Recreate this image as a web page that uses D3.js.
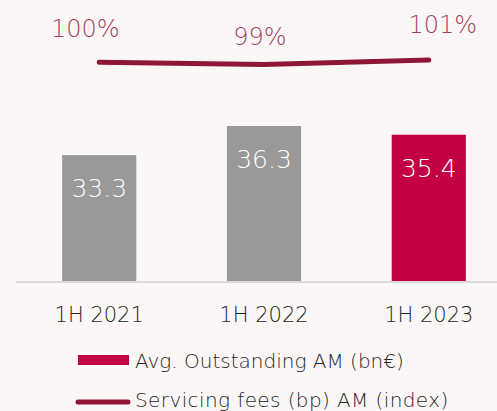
<!DOCTYPE html>
<html>
<head>
<meta charset="utf-8">
<script src="https://cdn.jsdelivr.net/npm/d3@7"></script>
<style>
  body { margin: 0; background: #fcf7f7; }
  svg { display: block; font-family: "DejaVu Sans", sans-serif; }
</style>
</head>
<body>
<div id="chart"></div>
<script>
// data
var periods = ["1H 2021", "1H 2022", "1H 2023"];
var outstanding = [33.3, 36.3, 35.4];
var feesIndex = [100, 99, 101];
var feesLabels = ["100%", "99%", "101%"];

var width = 497, height = 411;
var baseline = 281;

var svg = d3.select("#chart")
    .append("svg")
    .attr("width", width)
    .attr("height", height);

svg.append("rect")
    .attr("width", width)
    .attr("height", height)
    .attr("fill", "#fcf7f7");

// x scale - band for bars
var x = d3.scaleBand()
    .domain(periods)
    .range([16, 512])
    .paddingInner(0.55)
    .paddingOuter(0.28);

// y scale for bars (axis does not start at zero)
var y = d3.scaleLinear()
    .domain([20.3, 36.3])
    .range([baseline, 126]);

// y scale for the index line
var yLine = d3.scaleLinear()
    .domain([99, 101])
    .range([64.5, 60]);

// baseline
svg.append("line")
    .attr("x1", 16)
    .attr("x2", width)
    .attr("y1", baseline + 1)
    .attr("y2", baseline + 1)
    .attr("stroke", "#d9d9d9")
    .attr("stroke-width", 2);

// bars
svg.append("g")
    .selectAll("rect")
    .data(outstanding)
    .enter()
    .append("rect")
    .attr("x", function(d, i) { return x(periods[i]); })
    .attr("y", function(d) { return y(d); })
    .attr("width", x.bandwidth())
    .attr("height", function(d) { return baseline - y(d); })
    .attr("fill", function(d, i) { return i == 2 ? "#c40044" : "#999999"; });

// bar labels
svg.append("g")
    .selectAll("text")
    .data(outstanding)
    .enter()
    .append("text")
    .attr("x", function(d, i) { return x(periods[i]) + x.bandwidth() / 2; })
    .attr("y", function(d) { return y(d) + 42; })
    .attr("text-anchor", "middle")
    .attr("fill", "#ffffff")
    .style("font-size", "25px")
    .style("font-weight", 200)
    .text(function(d) { return d.toFixed(1); });

// x labels
svg.append("g")
    .selectAll("text")
    .data(periods)
    .enter()
    .append("text")
    .attr("x", function(d) { return x(d) + x.bandwidth() / 2; })
    .attr("y", 322)
    .attr("text-anchor", "middle")
    .attr("fill", "#262626")
    .style("font-size", "21px")
    .style("font-weight", 300)
    .text(function(d) { return d; });

// fees line
var line = d3.line()
    .x(function(d, i) { return x(periods[i]) + x.bandwidth() / 2; })
    .y(function(d) { return yLine(d); });

svg.append("path")
    .datum(feesIndex)
    .attr("d", line)
    .attr("fill", "none")
    .attr("stroke", "#8e1738")
    .attr("stroke-width", 5)
    .attr("stroke-linecap", "round")
    .attr("stroke-linejoin", "round");

// fees labels
var labelDx = [-14, -4, 14];
var labelDy = [-25, -20, -27];
svg.append("g")
    .selectAll("text")
    .data(feesIndex)
    .enter()
    .append("text")
    .attr("x", function(d, i) { return x(periods[i]) + x.bandwidth() / 2 + labelDx[i]; })
    .attr("y", function(d, i) { return yLine(d) + labelDy[i]; })
    .attr("text-anchor", "middle")
    .attr("fill", "#a2415f")
    .style("font-size", "24px")
    .style("font-weight", 200)
    .text(function(d, i) { return feesLabels[i]; });

// legend
var legend = svg.append("g");
legend.append("rect")
    .attr("x", 78)
    .attr("y", 355)
    .attr("width", 51)
    .attr("height", 10)
    .attr("fill", "#c40044");
legend.append("text")
    .attr("x", 135)
    .attr("y", 368)
    .attr("fill", "#262626")
    .style("font-size", "20px")
    .style("font-weight", 300)
    .text("Avg. Outstanding AM (bn€)");

legend.append("line")
    .attr("x1", 78)
    .attr("x2", 128)
    .attr("y1", 402)
    .attr("y2", 402)
    .attr("stroke", "#8e1738")
    .attr("stroke-width", 5)
    .attr("stroke-linecap", "round");
legend.append("text")
    .attr("x", 135)
    .attr("y", 407)
    .attr("fill", "#262626")
    .style("font-size", "20px")
    .style("font-weight", 300)
    .style("letter-spacing", "0.4px")
    .text("Servicing fees (bp) AM (index)");
</script>
</body>
</html>
